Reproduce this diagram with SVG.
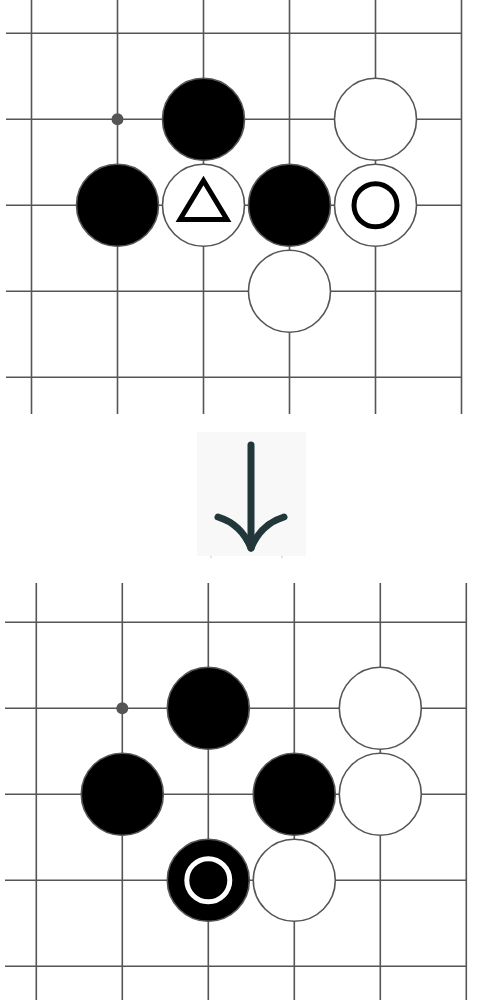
<svg xmlns="http://www.w3.org/2000/svg" width="500" height="1000" viewBox="0 0 500 1000">
<style>
.grid line{stroke:#555;stroke-width:1.6}
.b{fill:#000;stroke:#555;stroke-width:1.6}
.w{fill:#fff;stroke:#555;stroke-width:1.6}
.star{fill:#555}
</style>
<rect width="500" height="1000" fill="#fff"/>
<g id="board-top">
<g class="grid">
<line x1="31.5" y1="0" x2="31.5" y2="414"/>
<line x1="117.5" y1="0" x2="117.5" y2="414"/>
<line x1="203.5" y1="0" x2="203.5" y2="414"/>
<line x1="289.5" y1="0" x2="289.5" y2="414"/>
<line x1="375.5" y1="0" x2="375.5" y2="414"/>
<line x1="461.5" y1="0" x2="461.5" y2="414"/>
<line x1="6" y1="33.3" x2="461.5" y2="33.3"/>
<line x1="6" y1="119.3" x2="461.5" y2="119.3"/>
<line x1="6" y1="205.3" x2="461.5" y2="205.3"/>
<line x1="6" y1="291.3" x2="461.5" y2="291.3"/>
<line x1="6" y1="377.3" x2="461.5" y2="377.3"/>
</g>
<circle class="star" cx="117.5" cy="119.3" r="6"/>
<g id="t-b1"><circle class="b" cx="203.5" cy="119.3" r="41"/></g>
<g id="t-w1"><circle class="w" cx="375.5" cy="119.3" r="41"/></g>
<g id="t-b2"><circle class="b" cx="117.5" cy="205.3" r="41"/></g>
<g id="t-w2"><circle class="w" cx="203.5" cy="205.3" r="41"/>
<polygon points="203.5,180.5 180,219.5 227,219.5" fill="none" stroke="#000" stroke-width="5"/></g>
<g id="t-b3"><circle class="b" cx="289.5" cy="205.3" r="41"/></g>
<g id="t-w3"><circle class="w" cx="375.5" cy="205.3" r="41"/>
<circle cx="375.5" cy="205.3" r="21.5" fill="none" stroke="#000" stroke-width="5"/></g>
<g id="t-w4"><circle class="w" cx="289.5" cy="291.3" r="41"/></g>
</g>
<g id="arrow">
<rect x="197" y="432" width="109" height="124" fill="#f8f8f8"/>
<g fill="none" stroke="#22373a" stroke-width="7" stroke-linecap="round" stroke-linejoin="round">
<line x1="251" y1="445" x2="251" y2="546"/>
<path d="M218,517 Q241,524 251,548"/>
<path d="M284,517 Q261,524 251,548"/>
</g>
<circle cx="211" cy="557" r="0.8" fill="#bbb"/>
<circle cx="282" cy="557" r="0.8" fill="#bbb"/>
</g>
<g id="board-bottom">
<g class="grid">
<line x1="36.3" y1="583" x2="36.3" y2="1000"/>
<line x1="122.3" y1="583" x2="122.3" y2="1000"/>
<line x1="208.3" y1="583" x2="208.3" y2="1000"/>
<line x1="294.3" y1="583" x2="294.3" y2="1000"/>
<line x1="380.3" y1="583" x2="380.3" y2="1000"/>
<line x1="466.3" y1="583" x2="466.3" y2="1000"/>
<line x1="5" y1="622.3" x2="466.3" y2="622.3"/>
<line x1="5" y1="708.3" x2="466.3" y2="708.3"/>
<line x1="5" y1="794.3" x2="466.3" y2="794.3"/>
<line x1="5" y1="880.3" x2="466.3" y2="880.3"/>
<line x1="5" y1="966.3" x2="466.3" y2="966.3"/>
</g>
<circle class="star" cx="122.3" cy="708.3" r="6"/>
<g id="b-b1"><circle class="b" cx="208.3" cy="708.3" r="41"/></g>
<g id="b-w1"><circle class="w" cx="380.3" cy="708.3" r="41"/></g>
<g id="b-b2"><circle class="b" cx="122.3" cy="794.3" r="41"/></g>
<g id="b-b3"><circle class="b" cx="294.3" cy="794.3" r="41"/></g>
<g id="b-w2"><circle class="w" cx="380.3" cy="794.3" r="41"/></g>
<g id="b-b4"><circle class="b" cx="208.3" cy="880.3" r="41"/>
<circle cx="208.3" cy="880.3" r="21.5" fill="none" stroke="#fff" stroke-width="5"/></g>
<g id="b-w3"><circle class="w" cx="294.3" cy="880.3" r="41"/></g>
</g>
</svg>
